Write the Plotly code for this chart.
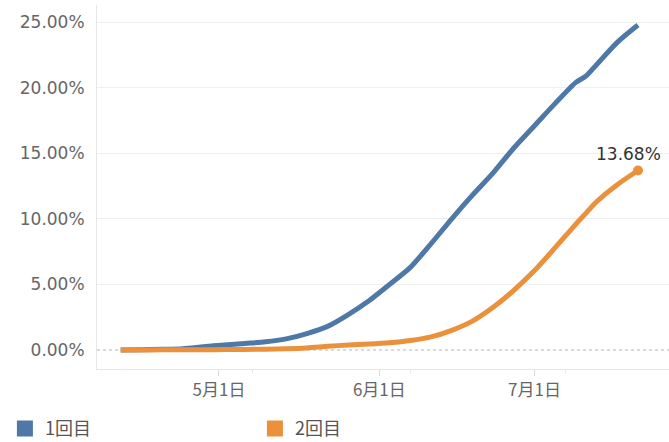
import plotly.graph_objects as go

# ---- data ----
dates = ["2021-04-12", "2021-04-16", "2021-04-20", "2021-04-24", "2021-04-28",
         "2021-05-02", "2021-05-06", "2021-05-10", "2021-05-14", "2021-05-18",
         "2021-05-22", "2021-05-26", "2021-05-30", "2021-06-03", "2021-06-07",
         "2021-06-11", "2021-06-15", "2021-06-19", "2021-06-23", "2021-06-27",
         "2021-07-01", "2021-07-05", "2021-07-09", "2021-07-11", "2021-07-13",
         "2021-07-17", "2021-07-21"]

dose1 = [0.00, 0.02, 0.05, 0.10, 0.25, 0.38, 0.50, 0.62, 0.85, 1.25,
         1.80, 2.70, 3.75, 5.00, 6.30, 8.10, 10.00, 11.80, 13.50, 15.40,
         17.10, 18.80, 20.40, 20.90, 21.75, 23.45, 24.77]

dose2 = [0.00, 0.00, 0.01, 0.01, 0.02, 0.03, 0.04, 0.06, 0.09, 0.16,
         0.28, 0.38, 0.45, 0.55, 0.72, 1.00, 1.50, 2.20, 3.25, 4.55,
         6.05, 7.80, 9.60, 10.45, 11.30, 12.60, 13.68]

series_names = ["1回目", "2回目"]
x_tick_vals = ["2021-05-01", "2021-06-01", "2021-07-01"]
x_tick_text = ["5月1日", "6月1日", "7月1日"]
x_minor_vals = ["2021-05-07 10:00", "2021-06-07", "2021-07-07"]
y_tick_vals = [0, 5, 10, 15, 20, 25]
y_tick_text = [f"{v:.2f}%" for v in y_tick_vals]

BLUE = "#4e78a6"
ORANGE = "#eb913c"
TICK_COLOR = "#666666"
JP_FONT = "Noto Sans CJK JP, DejaVu Sans, sans-serif"
NUM_FONT = "DejaVu Sans, Noto Sans, sans-serif"

fig = go.Figure()

fig.add_trace(go.Scatter(
    x=dates, y=dose1, mode="lines", name=series_names[0], showlegend=False,
    line=dict(color=BLUE, width=5, shape="spline", smoothing=0.7),
    hovertemplate="%{x}<br>%{y:.2f}%<extra>" + series_names[0] + "</extra>"))

fig.add_trace(go.Scatter(
    x=dates, y=dose2, mode="lines", name=series_names[1], showlegend=False,
    line=dict(color=ORANGE, width=5, shape="spline", smoothing=0.7),
    hovertemplate="%{x}<br>%{y:.2f}%<extra>" + series_names[1] + "</extra>"))

# end point dot on the 2nd-dose series
fig.add_trace(go.Scatter(
    x=[dates[-1]], y=[dose2[-1]], mode="markers", showlegend=False,
    marker=dict(color=ORANGE, size=10), hoverinfo="skip"))

# legend entries (square swatches)
for nm, col in zip(series_names, [BLUE, ORANGE]):
    fig.add_trace(go.Scatter(
        x=[None], y=[None], mode="markers", name=nm,
        marker=dict(symbol="square", size=16, color=col)))

fig.add_annotation(
    x=dates[-1], y=dose2[-1], text=f"{dose2[-1]:.2f}%", showarrow=False,
    xanchor="center", yanchor="bottom", xshift=-9, yshift=5,
    font=dict(family=NUM_FONT, size=17, color="#333333"))

# dotted zero line
fig.add_shape(type="line", xref="paper", yref="y", x0=0, x1=1, y0=0, y1=0,
              line=dict(color="#b5b5b5", width=1, dash="dot"), layer="between")

fig.update_layout(
    width=669, height=442,
    margin=dict(l=97, r=0, t=5, b=73, autoexpand=False),
    paper_bgcolor="white", plot_bgcolor="white",
    showlegend=True,
    legend=dict(orientation="h", x=-0.161, xanchor="left", y=-0.164,
                yanchor="middle", entrywidth=205, entrywidthmode="pixels",
                itemsizing="trace", itemclick=False,
                font=dict(family=JP_FONT, size=18, color="#555555")),
    xaxis=dict(
        type="date", range=["2021-04-07 10:00", "2021-07-27"],
        tickmode="array", tickvals=x_tick_vals, ticktext=x_tick_text,
        ticks="outside", ticklen=6, tickcolor="#dcdcdc", tickwidth=1,
        showline=True, linecolor="#e6e6e6", linewidth=1,
        showgrid=False, zeroline=False,
        tickfont=dict(family=JP_FONT, size=17, color=TICK_COLOR),
        minor=dict(tickmode="array", tickvals=x_minor_vals, ticks="outside",
                   ticklen=3, tickcolor="#e6e6e6", showgrid=False)),
    yaxis=dict(
        range=[-1.45, 26.3], tickmode="array", tickvals=y_tick_vals,
        ticktext=y_tick_text,
        showgrid=True, gridcolor="#efefef", gridwidth=1,
        zeroline=True, zerolinecolor="rgba(0,0,0,0)",
        showline=True, linecolor="#e6e6e6", linewidth=1,
        ticks="", ticklabelstandoff=8,
        tickfont=dict(family=NUM_FONT, size=17, color=TICK_COLOR)),
)

fig.write_html("out.html")
